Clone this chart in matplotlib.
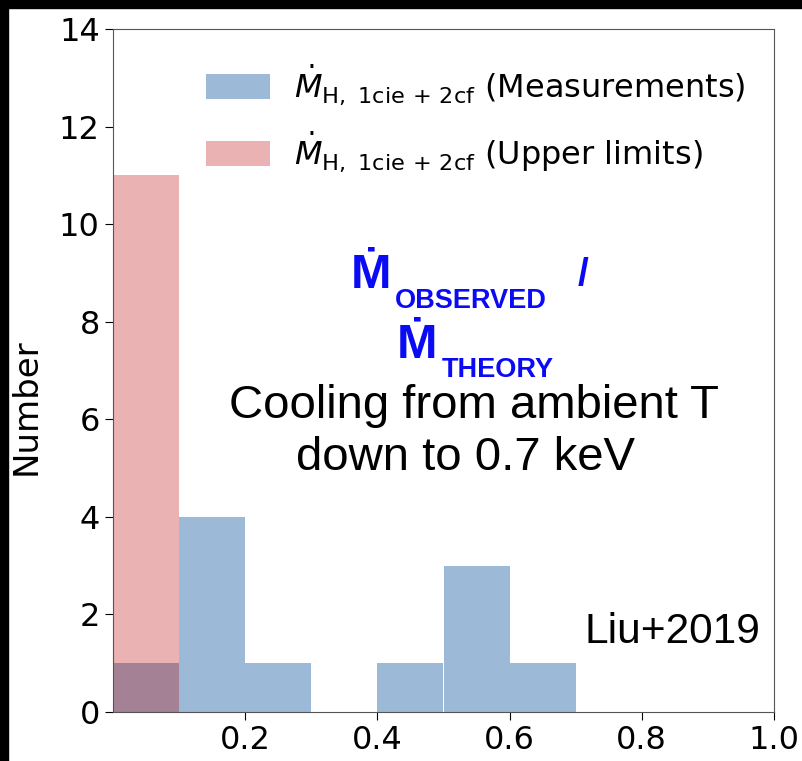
import numpy as np
import matplotlib
matplotlib.use('Agg')
import matplotlib.pyplot as plt
from matplotlib.patches import Rectangle

# histogram bins and counts
bin_edges = [0.0, 0.1, 0.2, 0.3, 0.4, 0.5, 0.6, 0.7, 0.8, 0.9, 1.0]
meas_counts = [1, 4, 1, 0, 1, 3, 1, 0, 0, 0]
upper_counts = [11, 0, 0, 0, 0, 0, 0, 0, 0, 0]

meas_label = r'$\dot{M}_{\rm H,\ 1cie\,+\,2cf}$ (Measurements)'
upper_label = r'$\dot{M}_{\rm H,\ 1cie\,+\,2cf}$ (Upper limits)'

xticks = [0.2, 0.4, 0.6, 0.8, 1.0]
yticks = [0, 2, 4, 6, 8, 10, 12, 14]

plt.rcParams['mathtext.fontset'] = 'dejavusans'

fig = plt.figure(figsize=(8.03, 7.61), dpi=100)
ax = fig.add_axes([113 / 803, 49 / 761, 661 / 803, 683 / 761])

centers = np.array(bin_edges[:-1]) + 0.05
ax.hist(centers, bins=bin_edges, weights=meas_counts,
        color='#3a75b0', alpha=0.5, label=meas_label)
ax.hist(centers, bins=bin_edges, weights=upper_counts,
        color='#bc0000', alpha=0.3, label=upper_label)

ax.set_xlim(0, 1.0)
ax.set_ylim(0, 14)
ax.set_xticks(xticks)
ax.set_yticks(yticks)
ax.set_xticklabels(['%.1f' % t for t in xticks])
ax.tick_params(labelsize=23, length=6)
ax.set_ylabel('Number', fontsize=24.5, va='center')
ax.yaxis.set_label_coords((26 - 113) / 661, (712 - 407) / 683)
for sp in ax.spines.values():
    sp.set_color('#555555')

leg = ax.legend(loc='upper right', frameon=False, fontsize=23,
                handlelength=2.0, handleheight=0.85, handletextpad=0.75,
                labelspacing=0.7, bbox_to_anchor=(1.0, 0.993))

arial = ['Liberation Sans', 'DejaVu Sans']
blue = '#0a0af5'

def px(x, y):
    return (x - 113) / 661, (712 - y) / 683

ax.text(*px(351, 288), '\u1e40', fontsize=35, fontweight='bold',
        color=blue, family=arial, transform=ax.transAxes, va='baseline')
ax.text(*px(395, 308), 'OBSERVED', fontsize=19.5, fontweight='bold',
        color=blue, family=arial, transform=ax.transAxes, va='baseline')
ax.text(*px(578, 285), '/', fontsize=28, fontweight='bold',
        color=blue, family=arial, transform=ax.transAxes, va='baseline')
ax.text(*px(397, 358), '\u1e40', fontsize=35, fontweight='bold',
        color=blue, family=arial, transform=ax.transAxes, va='baseline')
ax.text(*px(442, 377), 'THEORY', fontsize=19.5, fontweight='bold',
        color=blue, family=arial, transform=ax.transAxes, va='baseline')

ax.text(*px(474, 418), 'Cooling from ambient T', fontsize=34, family=arial,
        transform=ax.transAxes, ha='center', va='baseline')
ax.text(*px(466, 470), 'down to 0.7 keV', fontsize=34, family=arial,
        transform=ax.transAxes, ha='center', va='baseline')
ax.text(*px(585, 643), 'Liu+2019', fontsize=30.5, family=arial,
        transform=ax.transAxes, va='baseline')

# dark border strips along the top and left edges
fig.patches.append(Rectangle((0, 753 / 761), 1, 8 / 761, color='black',
                             transform=fig.transFigure, zorder=10))
fig.patches.append(Rectangle((0, 0), 8 / 803, 1, color='black',
                             transform=fig.transFigure, zorder=10))

fig.savefig('out.png', dpi=100)
